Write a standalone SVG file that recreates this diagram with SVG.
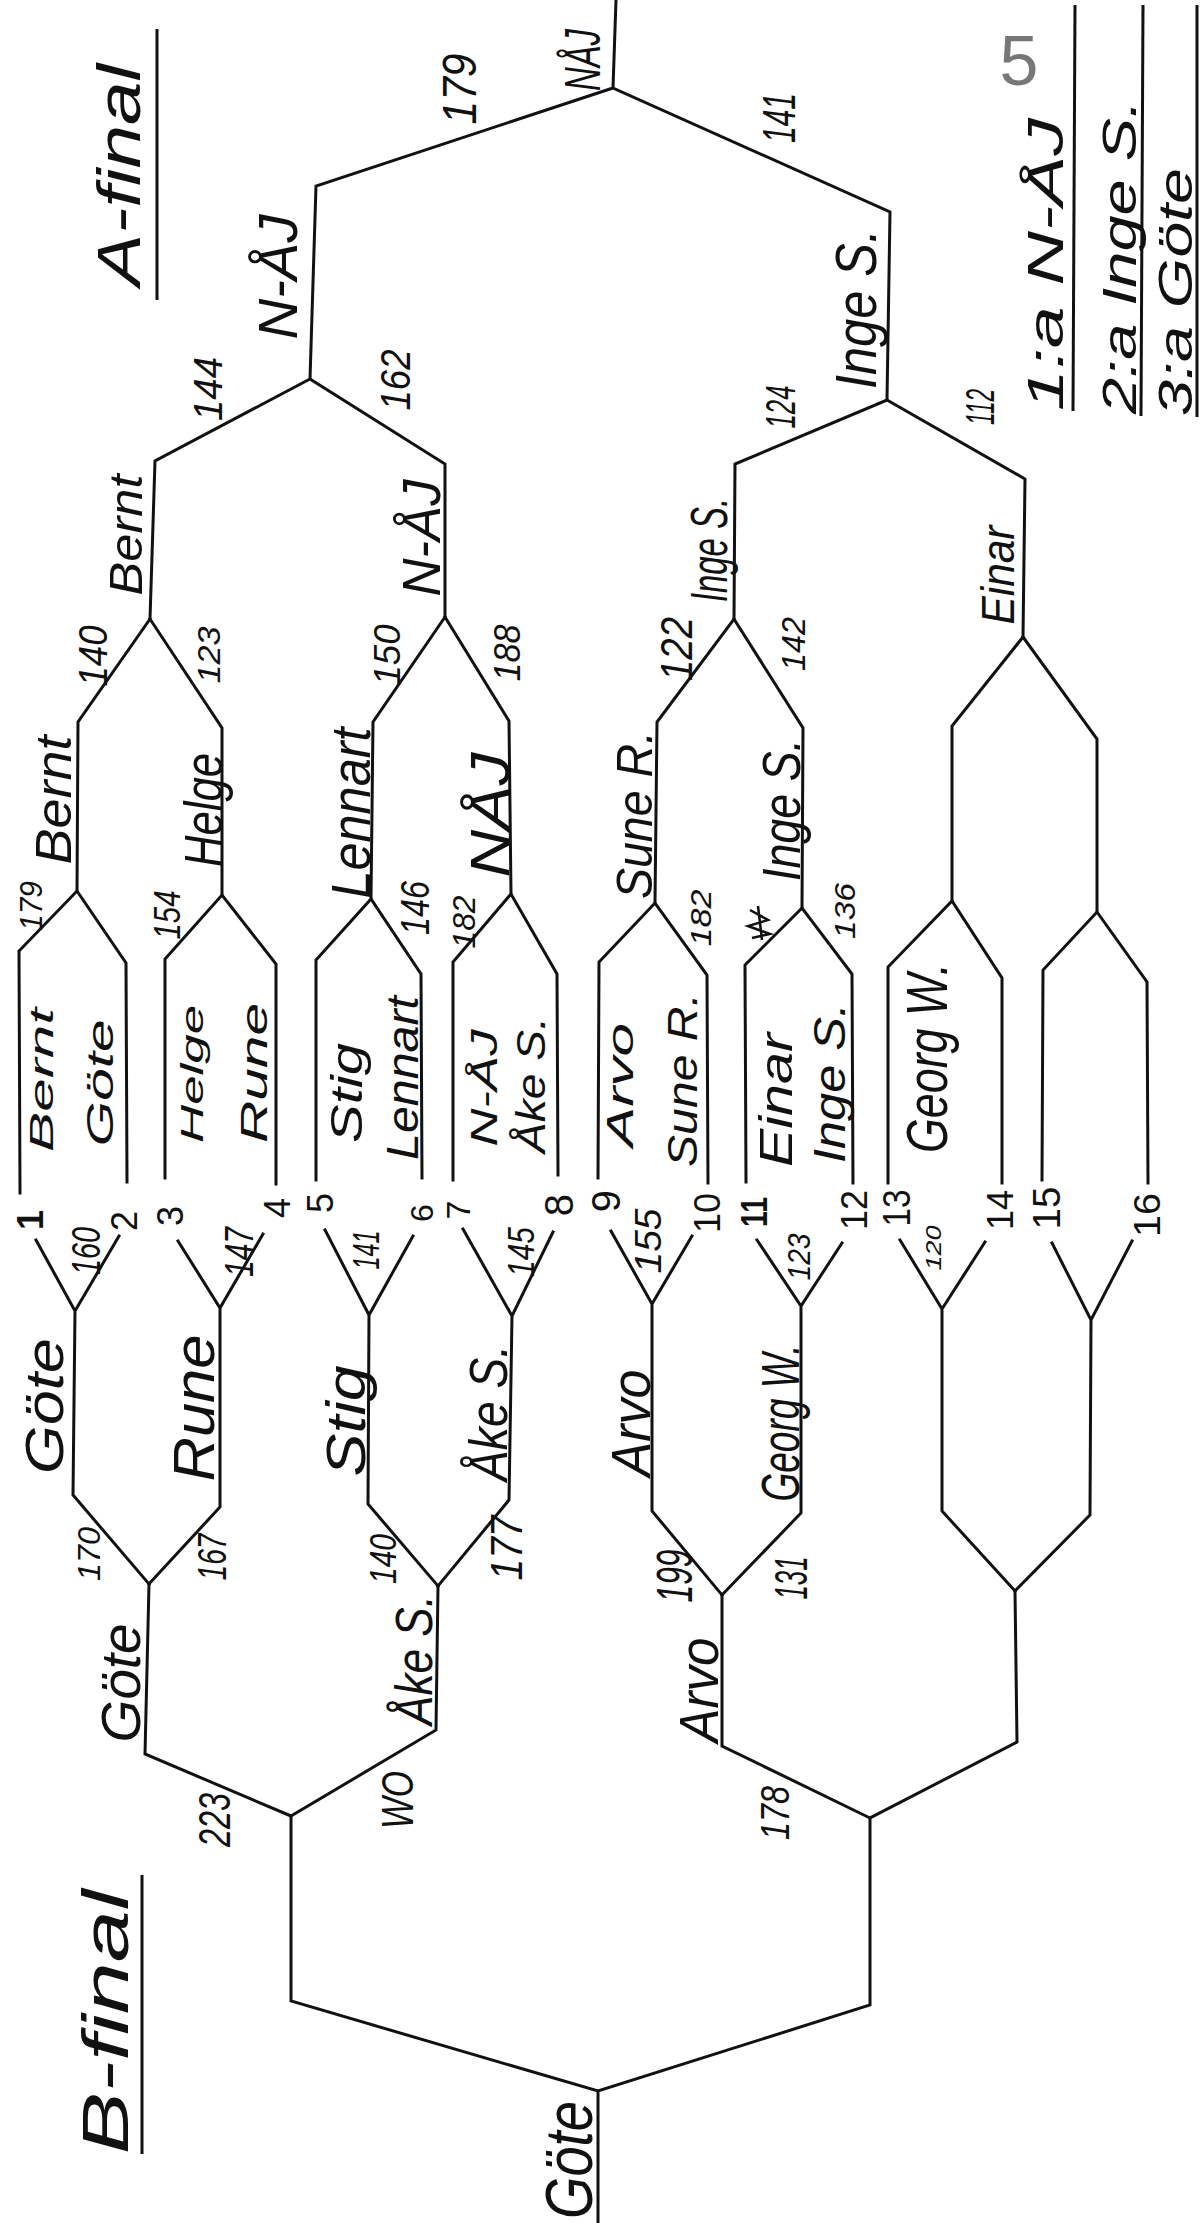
<svg xmlns="http://www.w3.org/2000/svg" width="1200" height="2223" viewBox="0 0 1200 2223">
<style>
.t{font-family:"Liberation Sans","DejaVu Sans",sans-serif;font-style:italic;fill:#111;text-anchor:middle}
.s{text-anchor:start}
.n{font-style:normal}
.c{fill:none;stroke:#111;stroke-width:3;stroke-linejoin:miter;stroke-linecap:square}
.u{fill:none;stroke:#111;stroke-width:3}
</style>
<rect width="1200" height="2223" fill="#fff"/>
<g id="connectors">
<path class="c" d="M616,0 L613,88 M613,88 L316,186 L310,379 M613,88 L890,212 L887,400"/>
<path class="c" d="M310,379 L155,461 L150,619 M310,379 L445,464 L445,617"/>
<path class="c" d="M887,400 L735,464 L734,619 M887,400 L1025,479 L1023,637"/>
<path class="c" d="M150,619 L78,722 L77,891 M150,619 L222,728 L222,895"/>
<path class="c" d="M445,617 L373,722 L371,899 M445,617 L509,721 L511,894"/>
<path class="c" d="M734,619 L657,722 L655,903 M734,619 L803,728 L802,908"/>
<path class="c" d="M1023,637 L952,726 L952,901 M1023,637 L1097,739 L1097,912"/>
<path class="c" d="M20,1193 L19,951 L77,891 L126,963 L127,1182"/>
<path class="c" d="M165,1178 L165,959 L222,895 L276,964 L276,1184"/>
<path class="c" d="M316,1180 L316,960 L371,899 L421,974 L422,1178"/>
<path class="c" d="M453,1180 L453,962 L511,894 L557,974 L558,1175"/>
<path class="c" d="M598,1178 L599,962 L655,903 L707,975 L708,1183"/>
<path class="c" d="M746,1182 L745,965 L802,908 L852,974 L853,1183"/>
<path class="c" d="M888,1183 L888,967 L952,901 L1002,978 L1002,1183"/>
<path class="c" d="M1042,1180 L1043,970 L1097,912 L1147,982 L1148,1183"/>
<path class="c" d="M36,1240 L75,1311 L119,1236 M75,1311 L73,1495 L149,1584"/>
<path class="c" d="M178,1241 L220,1308 L263,1234 M220,1308 L220,1507 L149,1584"/>
<path class="c" d="M325,1230 L369,1315 L413,1236 M369,1315 L368,1504 L438,1586"/>
<path class="c" d="M463,1229 L512,1316 L553,1232 M512,1316 L509,1500 L438,1586"/>
<path class="c" d="M611,1231 L652,1304 L692,1236 M652,1304 L652,1511 L722,1595"/>
<path class="c" d="M757,1240 L801,1306 L842,1243 M801,1306 L801,1513 L722,1595"/>
<path class="c" d="M900,1240 L942,1309 L985,1242 M942,1309 L942,1511 L1015,1591"/>
<path class="c" d="M1052,1243 L1091,1320 L1132,1241 M1091,1320 L1090,1515 L1015,1591"/>
<path class="c" d="M149,1584 L145,1754 L291,1816 M438,1586 L436,1730 L291,1816"/>
<path class="c" d="M722,1595 L722,1746 L870,1818 M1015,1591 L1017,1742 L870,1818"/>
<path class="c" d="M291,1816 L291,2001 L598,2091 L870,2005 L870,1818 M598,2091 L598,2223"/>
</g>
<g id="titles">
<text class="t" transform="translate(140,175) rotate(-90)" font-size="62" textLength="222" lengthAdjust="spacingAndGlyphs">A-final</text>
<line class="u" x1="157" y1="29" x2="157" y2="300"/>
<text class="t" transform="translate(128,2022) rotate(-90)" font-size="64" textLength="265" lengthAdjust="spacingAndGlyphs">B-final</text>
<line class="u" x1="142" y1="1875" x2="142" y2="2154"/>
<text class="t n" x="1019" y="85" font-size="70" style="fill:#777">5</text>
</g>
<g id="podium">
<text class="t s" transform="translate(1063,411) rotate(-90)" font-size="50" textLength="293" lengthAdjust="spacingAndGlyphs">1:a N-ÅJ</text>
<line class="u" x1="1075" y1="5" x2="1073" y2="411"/>
<text class="t s" transform="translate(1136,414) rotate(-90)" font-size="48" textLength="314" lengthAdjust="spacingAndGlyphs">2:a Inge S.</text>
<line class="u" x1="1143" y1="5" x2="1141" y2="416"/>
<text class="t s" transform="translate(1192,416) rotate(-90)" font-size="48" textLength="248" lengthAdjust="spacingAndGlyphs">3:a Göte</text>
<line class="u" x1="1197" y1="5" x2="1197" y2="417"/>
</g>
<g id="a-final">
<text class="t" transform="translate(600,60) rotate(-90)" font-size="50" textLength="62" lengthAdjust="spacingAndGlyphs">NÅJ</text>
<text class="t" transform="translate(476,89) rotate(-90)" font-size="48" textLength="71" lengthAdjust="spacingAndGlyphs">179</text>
<text class="t" transform="translate(795,118) rotate(-90)" font-size="46" textLength="50" lengthAdjust="spacingAndGlyphs">141</text>
</g>
<g id="a-semi">
<text class="t" transform="translate(297,277) rotate(-90)" font-size="56" textLength="125" lengthAdjust="spacingAndGlyphs">N-ÅJ</text>
<text class="t" transform="translate(876,309) rotate(-90)" font-size="58" textLength="160" lengthAdjust="spacingAndGlyphs">Inge S.</text>
<text class="t" transform="translate(222,389) rotate(-90)" font-size="40" textLength="64" lengthAdjust="spacingAndGlyphs">144</text>
<text class="t" transform="translate(410,380) rotate(-90)" font-size="42" textLength="61" lengthAdjust="spacingAndGlyphs">162</text>
<text class="t" transform="translate(795,407) rotate(-90)" font-size="42" textLength="43" lengthAdjust="spacingAndGlyphs">124</text>
<text class="t" transform="translate(994,407) rotate(-90)" font-size="40" textLength="36" lengthAdjust="spacingAndGlyphs">112</text>
</g>
<g id="a-quarter">
<text class="t" transform="translate(142,535) rotate(-90)" font-size="46" textLength="121" lengthAdjust="spacingAndGlyphs">Bernt</text>
<text class="t" transform="translate(440,538) rotate(-90)" font-size="54" textLength="117" lengthAdjust="spacingAndGlyphs">N-ÅJ</text>
<text class="t" transform="translate(727,550) rotate(-90)" font-size="52" textLength="104" lengthAdjust="spacingAndGlyphs">Inge S.</text>
<text class="t" transform="translate(1014,575) rotate(-90)" font-size="46" textLength="99" lengthAdjust="spacingAndGlyphs">Einar</text>
<text class="t" transform="translate(107,656) rotate(-90)" font-size="40" textLength="61" lengthAdjust="spacingAndGlyphs">140</text>
<text class="t" transform="translate(220,655) rotate(-90)" font-size="32" textLength="57" lengthAdjust="spacingAndGlyphs">123</text>
<text class="t" transform="translate(400,655) rotate(-90)" font-size="36" textLength="61" lengthAdjust="spacingAndGlyphs">150</text>
<text class="t" transform="translate(520,653) rotate(-90)" font-size="36" textLength="57" lengthAdjust="spacingAndGlyphs">188</text>
<text class="t" transform="translate(692,649) rotate(-90)" font-size="44" textLength="64" lengthAdjust="spacingAndGlyphs">122</text>
<text class="t" transform="translate(805,644) rotate(-90)" font-size="34" textLength="54" lengthAdjust="spacingAndGlyphs">142</text>
</g>
<g id="a-round1">
<text class="t" transform="translate(71,800) rotate(-90)" font-size="50" textLength="129" lengthAdjust="spacingAndGlyphs">Bernt</text>
<text class="t" transform="translate(42,906) rotate(-90)" font-size="32" textLength="50" lengthAdjust="spacingAndGlyphs">179</text>
<text class="t" transform="translate(222,810) rotate(-90)" font-size="54" textLength="114" lengthAdjust="spacingAndGlyphs">Helge</text>
<text class="t" transform="translate(180,915) rotate(-90)" font-size="36" textLength="49" lengthAdjust="spacingAndGlyphs">154</text>
<text class="t" transform="translate(370,813) rotate(-90)" font-size="56" textLength="171" lengthAdjust="spacingAndGlyphs">Lennart</text>
<text class="t" transform="translate(429,908) rotate(-90)" font-size="40" textLength="54" lengthAdjust="spacingAndGlyphs">146</text>
<text class="t" transform="translate(509,815) rotate(-90)" font-size="56" textLength="125" lengthAdjust="spacingAndGlyphs">NÅJ</text>
<text class="t" transform="translate(475,922) rotate(-90)" font-size="32" textLength="53" lengthAdjust="spacingAndGlyphs">182</text>
<text class="t" transform="translate(652,815) rotate(-90)" font-size="50" textLength="168" lengthAdjust="spacingAndGlyphs">Sune R.</text>
<text class="t" transform="translate(711,918) rotate(-90)" font-size="30" textLength="57" lengthAdjust="spacingAndGlyphs">182</text>
<text class="t" transform="translate(800,810) rotate(-90)" font-size="54" textLength="142" lengthAdjust="spacingAndGlyphs">Inge S.</text>
<text class="t" transform="translate(855,911) rotate(-90)" font-size="30" textLength="56" lengthAdjust="spacingAndGlyphs">136</text>
<path d="M750,910 L768,920 L748,926 L770,934 L752,938 M758,906 L762,940" fill="none" stroke="#111" stroke-width="2.5"/>
</g>
<g id="entries">
<text class="t" transform="translate(53,1080) rotate(-90)" font-size="34" textLength="144" lengthAdjust="spacingAndGlyphs">Bernt</text>
<text class="t" transform="translate(113,1083) rotate(-90)" font-size="36" textLength="127" lengthAdjust="spacingAndGlyphs">Göte</text>
<text class="t" transform="translate(203,1074) rotate(-90)" font-size="32" textLength="138" lengthAdjust="spacingAndGlyphs">Helge</text>
<text class="t" transform="translate(267,1073) rotate(-90)" font-size="36" textLength="140" lengthAdjust="spacingAndGlyphs">Rune</text>
<text class="t" transform="translate(362,1093) rotate(-90)" font-size="44" textLength="100" lengthAdjust="spacingAndGlyphs">Stig</text>
<text class="t" transform="translate(418,1078) rotate(-90)" font-size="44" textLength="164" lengthAdjust="spacingAndGlyphs">Lennart</text>
<text class="t" transform="translate(497,1088) rotate(-90)" font-size="36" textLength="117" lengthAdjust="spacingAndGlyphs">N-ÅJ</text>
<text class="t" transform="translate(545,1085) rotate(-90)" font-size="40" textLength="136" lengthAdjust="spacingAndGlyphs">Åke S.</text>
<text class="t" transform="translate(633,1085) rotate(-90)" font-size="36" textLength="124" lengthAdjust="spacingAndGlyphs">Arvo</text>
<text class="t" transform="translate(697,1080) rotate(-90)" font-size="42" textLength="174" lengthAdjust="spacingAndGlyphs">Sune R.</text>
<text class="t" transform="translate(792,1100) rotate(-90)" font-size="46" textLength="134" lengthAdjust="spacingAndGlyphs">Einar</text>
<text class="t" transform="translate(845,1083) rotate(-90)" font-size="44" textLength="160" lengthAdjust="spacingAndGlyphs">Inge S.</text>
<text class="t" transform="translate(947,1058) rotate(-90)" font-size="58" textLength="190" lengthAdjust="spacingAndGlyphs">Georg W.</text>
</g>
<g id="numbers">
<text class="t n" transform="translate(43,1220) rotate(-90)" font-size="36" font-weight="bold">1</text>
<text class="t n" transform="translate(137,1221) rotate(-90)" font-size="36">2</text>
<text class="t n" transform="translate(183,1216) rotate(-90)" font-size="36">3</text>
<text class="t n" transform="translate(290,1208) rotate(-90)" font-size="36">4</text>
<text class="t n" transform="translate(333,1203) rotate(-90)" font-size="36">5</text>
<text class="t n" transform="translate(433,1213) rotate(-90)" font-size="32">6</text>
<text class="t n" transform="translate(470,1210) rotate(-90)" font-size="34">7</text>
<text class="t n" transform="translate(573,1205) rotate(-90)" font-size="40">8</text>
<text class="t n" transform="translate(620,1201) rotate(-90)" font-size="40">9</text>
<text class="t n" transform="translate(720,1213) rotate(-90)" font-size="36" textLength="40" lengthAdjust="spacingAndGlyphs">10</text>
<text class="t n" transform="translate(767,1212) rotate(-90)" font-size="36" font-weight="bold" textLength="30" lengthAdjust="spacingAndGlyphs">11</text>
<text class="t n" transform="translate(867,1210) rotate(-90)" font-size="36" textLength="40" lengthAdjust="spacingAndGlyphs">12</text>
<text class="t n" transform="translate(910,1208) rotate(-90)" font-size="38" textLength="37" lengthAdjust="spacingAndGlyphs">13</text>
<text class="t n" transform="translate(1013,1210) rotate(-90)" font-size="36" textLength="40" lengthAdjust="spacingAndGlyphs">14</text>
<text class="t n" transform="translate(1060,1208) rotate(-90)" font-size="38" textLength="43" lengthAdjust="spacingAndGlyphs">15</text>
<text class="t n" transform="translate(1160,1215) rotate(-90)" font-size="36" textLength="44" lengthAdjust="spacingAndGlyphs">16</text>
</g>
<g id="b-round1">
<text class="t" transform="translate(100,1251) rotate(-90)" font-size="40" textLength="48" lengthAdjust="spacingAndGlyphs">160</text>
<text class="t" transform="translate(253,1252) rotate(-90)" font-size="40" textLength="50" lengthAdjust="spacingAndGlyphs">147</text>
<text class="t" transform="translate(379,1250) rotate(-90)" font-size="36" textLength="39" lengthAdjust="spacingAndGlyphs">141</text>
<text class="t" transform="translate(534,1252) rotate(-90)" font-size="36" textLength="50" lengthAdjust="spacingAndGlyphs">145</text>
<text class="t" transform="translate(661,1241) rotate(-90)" font-size="36" textLength="65" lengthAdjust="spacingAndGlyphs">155</text>
<text class="t" transform="translate(810,1257) rotate(-90)" font-size="32" textLength="47" lengthAdjust="spacingAndGlyphs">123</text>
<text class="t" transform="translate(941,1248) rotate(-90)" font-size="22" textLength="45" lengthAdjust="spacingAndGlyphs">120</text>
<text class="t" transform="translate(63,1406) rotate(-90)" font-size="54" textLength="136" lengthAdjust="spacingAndGlyphs">Göte</text>
<text class="t" transform="translate(214,1408) rotate(-90)" font-size="58" textLength="147" lengthAdjust="spacingAndGlyphs">Rune</text>
<text class="t" transform="translate(365,1421) rotate(-90)" font-size="56" textLength="111" lengthAdjust="spacingAndGlyphs">Stig</text>
<text class="t" transform="translate(507,1413) rotate(-90)" font-size="54" textLength="136" lengthAdjust="spacingAndGlyphs">Åke S.</text>
<text class="t" transform="translate(650,1423) rotate(-90)" font-size="56" textLength="107" lengthAdjust="spacingAndGlyphs">Arvo</text>
<text class="t" transform="translate(799,1423) rotate(-90)" font-size="54" textLength="157" lengthAdjust="spacingAndGlyphs">Georg W.</text>
</g>
<g id="b-quarter">
<text class="t" transform="translate(100,1554) rotate(-90)" font-size="32" textLength="54" lengthAdjust="spacingAndGlyphs">170</text>
<text class="t" transform="translate(226,1557) rotate(-90)" font-size="40" textLength="47" lengthAdjust="spacingAndGlyphs">167</text>
<text class="t" transform="translate(396,1559) rotate(-90)" font-size="36" textLength="50" lengthAdjust="spacingAndGlyphs">140</text>
<text class="t" transform="translate(522,1548) rotate(-90)" font-size="44" textLength="65" lengthAdjust="spacingAndGlyphs">177</text>
<text class="t" transform="translate(692,1576) rotate(-90)" font-size="50" textLength="53" lengthAdjust="spacingAndGlyphs">199</text>
<text class="t" transform="translate(807,1578) rotate(-90)" font-size="46" textLength="43" lengthAdjust="spacingAndGlyphs">131</text>
<text class="t" transform="translate(140,1683) rotate(-90)" font-size="56" textLength="119" lengthAdjust="spacingAndGlyphs">Göte</text>
<text class="t" transform="translate(432,1660) rotate(-90)" font-size="52" textLength="130" lengthAdjust="spacingAndGlyphs">Åke S.</text>
<text class="t" transform="translate(718,1690) rotate(-90)" font-size="56" textLength="105" lengthAdjust="spacingAndGlyphs">Arvo</text>
</g>
<g id="b-final">
<text class="t" transform="translate(230,1820) rotate(-90)" font-size="44" textLength="54" lengthAdjust="spacingAndGlyphs">223</text>
<text class="t" transform="translate(413,1800) rotate(-90)" font-size="44" textLength="58" lengthAdjust="spacingAndGlyphs">WO</text>
<text class="t" transform="translate(789,1813) rotate(-90)" font-size="40" textLength="54" lengthAdjust="spacingAndGlyphs">178</text>
<text class="t" transform="translate(592,2160) rotate(-90)" font-size="66" textLength="118" lengthAdjust="spacingAndGlyphs">Göte</text>
</g>
</svg>
